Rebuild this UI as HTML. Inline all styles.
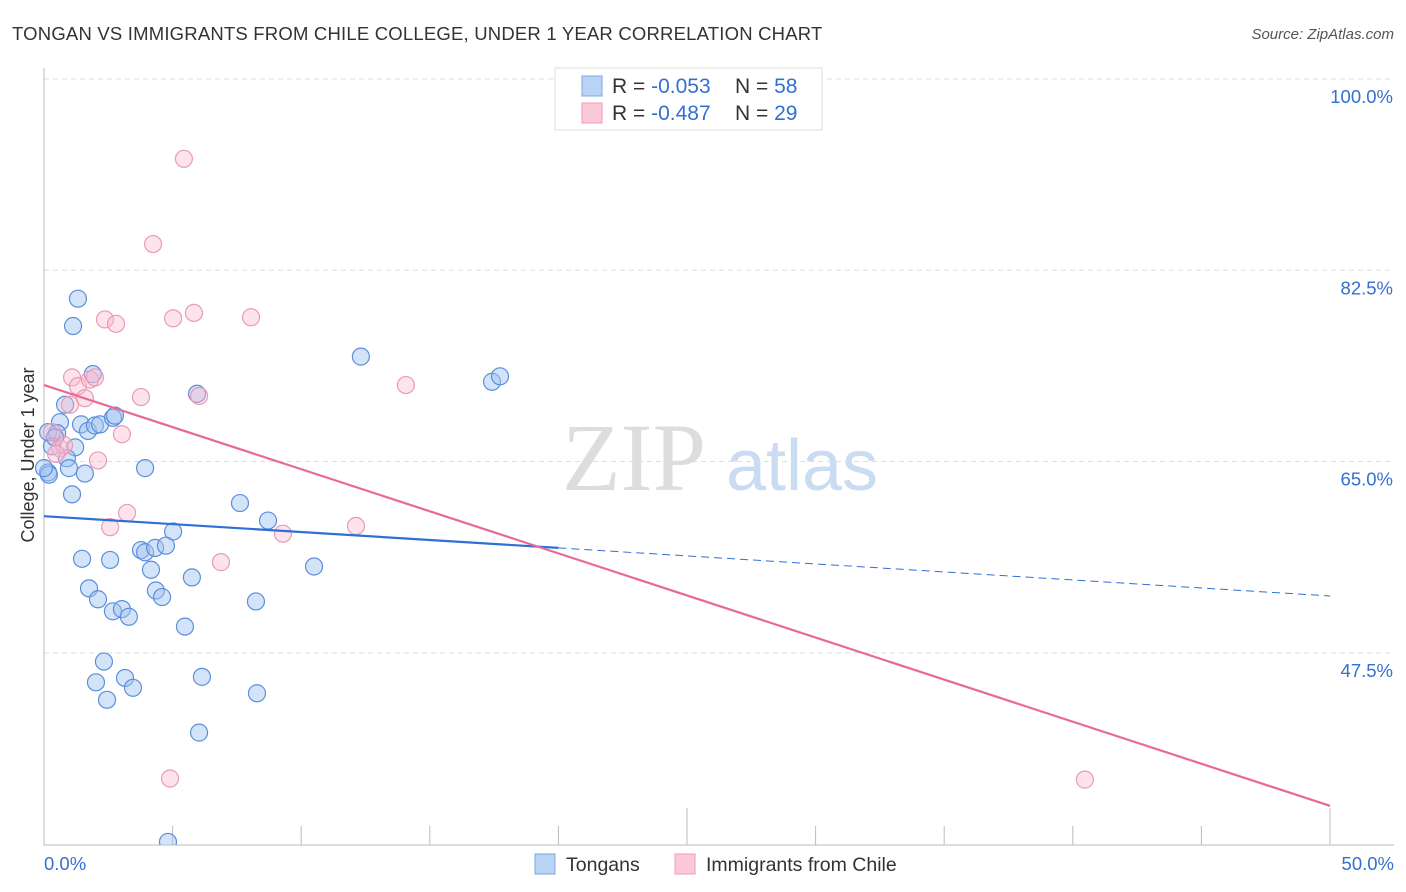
<!DOCTYPE html>
<html><head><meta charset="utf-8">
<style>
body{margin:0;background:#fff;font-family:"Liberation Sans",sans-serif;}
svg{display:block}
</style></head>
<body>
<svg id="chart" width="1406" height="892">
<text x="12" y="40" font-size="18.5" fill="#333" letter-spacing="0.2">TONGAN VS IMMIGRANTS FROM CHILE COLLEGE, UNDER 1 YEAR CORRELATION CHART</text>
<text x="1394" y="39" font-size="15" fill="#555" font-style="italic" text-anchor="end">Source: ZipAtlas.com</text>
<text x="634" y="490" font-size="96" fill="#ddd" font-family="Liberation Serif,serif" text-anchor="middle">ZIP</text>
<text x="802" y="490" font-size="72" fill="#c9dcf2" text-anchor="middle">atlas</text>
<g id="grid"></g>
<g id="axes"></g>
<g id="marks"></g>
<text transform="translate(34,455) rotate(-90)" font-size="18" fill="#333" text-anchor="middle">College, Under 1 year</text>
<g>
<rect x="555" y="68" width="267" height="62" fill="#fff" stroke="#ddd"/>
<rect x="582" y="76" width="20" height="20" fill="#b9d3f5" stroke="#7aa7e3"/>
<rect x="582" y="103" width="20" height="20" fill="#fcc9d8" stroke="#f09ab5"/>
<text x="612" y="93" font-size="21" fill="#333">R = <tspan fill="#3470d0">-0.053</tspan><tspan x="735">N = </tspan><tspan fill="#3470d0">58</tspan></text>
<text x="612" y="120" font-size="21" fill="#333">R = <tspan fill="#3470d0">-0.487</tspan><tspan x="735">N = </tspan><tspan fill="#3470d0">29</tspan></text>
</g>
<g>
<rect x="535" y="854" width="20" height="20" fill="#b9d3f5" stroke="#7aa7e3"/>
<text x="566" y="871" font-size="19.5" fill="#333">Tongans</text>
<rect x="675" y="854" width="20" height="20" fill="#fcc9d8" stroke="#f09ab5"/>
<text x="706" y="871" font-size="19.5" fill="#333">Immigrants from Chile</text>
</g>
</svg>
<script>
const yTicks=[100,82.5,65,47.5];
const yTickLabels=["100.0%","82.5%","65.0%","47.5%"];
const xTickLabels=["0.0%","50.0%"];
const tonganX=[1.32,1.13,1.9,5.95,12.32,17.42,17.73,0.82,0.62,1.44,1.71,1.98,2.18,2.68,2.76,0.16,0.51,1.21,0.31,0.89,0.97,0.16,1.59,3.93,1.09,7.62,8.71,5.02,3.77,3.93,4.32,4.74,1.48,2.57,4.16,10.5,1.75,5.75,4.35,4.59,2.1,8.24,2.68,3.03,3.3,5.48,2.33,2.02,3.15,3.46,6.14,2.45,8.28,6.03,4.82,0.19,0.0,0.43];
const tonganY=[79.9,77.4,73.0,71.2,74.6,72.3,72.8,70.2,68.6,68.4,67.8,68.3,68.4,69.0,69.2,67.7,67.6,66.3,66.4,65.3,64.4,64.0,63.9,64.4,62.0,61.2,59.6,58.6,56.9,56.7,57.1,57.3,56.1,56.0,55.1,55.4,53.4,54.4,53.2,52.6,52.4,52.2,51.3,51.5,50.8,49.9,46.7,44.8,45.2,44.3,45.3,43.2,43.8,40.2,30.2,63.8,64.4,67.2];
const chileX=[5.44,4.24,2.37,2.8,5.02,5.83,8.05,1.09,1.32,1.79,1.98,3.77,6.03,14.07,1.01,1.59,3.03,0.31,0.62,0.78,2.1,0.47,2.57,3.23,12.13,9.29,6.88,4.9,40.47];
const chileY=[92.7,84.9,78.0,77.6,78.1,78.6,78.2,72.7,71.9,72.5,72.7,70.9,71.0,72.0,70.2,70.8,67.5,67.7,66.2,66.5,65.1,65.7,59.0,60.3,59.1,58.4,55.8,36.0,35.9];
const blueLine=[0,60.0,20.0,57.1,50,52.7];
const pinkLine=[0,72.0,50,33.5];
const X0=44,X1=1330,YT=79,PX=10.93;
const xs=v=>X0+(X1-X0)*v/50;
const ys=v=>YT+(100-v)*PX;
const NS="http://www.w3.org/2000/svg";
function mk(t,a,p){const e=document.createElementNS(NS,t);for(const k in a)e.setAttribute(k,a[k]);p.appendChild(e);return e;}
const grid=document.getElementById('grid'),axes=document.getElementById('axes'),marks=document.getElementById('marks');
yTicks.forEach((v,i)=>{
 const l=mk('line',{x1:44,x2:1394,y1:ys(v),y2:ys(v),stroke:'#ddd','stroke-dasharray':'5,4'},grid);
 
 
 const t=mk('text',{x:1393,y:ys(v)+24,'font-size':18.5,fill:'#3470d0','text-anchor':'end'},grid);
 t.textContent=yTickLabels[i];
 
 
});
const ax=mk('line',{x1:44,x2:1394,y1:845,y2:845,stroke:'#bbb'},axes);


const ay=mk('line',{x1:44,x2:44,y1:68,y2:845,stroke:'#bbb'},axes);


for(let i=0;i<=10;i++){
 const x=xs(i*5),big=(i==5||i==10);
 const tk=mk('line',{x1:x,x2:x,y1:big?808:826,y2:845,stroke:'#bbb'},axes);
 
 
}
[[0,'start',44],[50,'end',1394]].forEach((d,i)=>{
 const t=mk('text',{x:d[2],y:870,'font-size':18.5,fill:'#3470d0','text-anchor':d[1]},axes);
 t.textContent=xTickLabels[i];
 
 
});
const clip=mk('clipPath',{id:'pc'},marks);mk('rect',{x:0,y:60,width:1406,height:785},clip);
const pg=mk('g',{'clip-path':'url(#pc)'},marks);
tonganX.forEach((v,i)=>{
 const c=mk('circle',{cx:xs(v),cy:ys(tonganY[i]),r:8.5,fill:'rgba(160,196,240,0.45)',stroke:'#5b8fdc','stroke-width':1.2},pg);
 
 
});
chileX.forEach((v,i)=>{
 const c=mk('circle',{cx:xs(v),cy:ys(chileY[i]),r:8.5,fill:'rgba(250,185,205,0.4)',stroke:'#ec9ab5','stroke-width':1.2},pg);
 
 
});
const b1=mk('line',{x1:xs(blueLine[0]),y1:ys(blueLine[1]),x2:xs(blueLine[2]),y2:ys(blueLine[3]),stroke:'#2f6fd6','stroke-width':2.2},marks);


const b2=mk('line',{x1:xs(blueLine[2]),y1:ys(blueLine[3]),x2:xs(blueLine[4]),y2:ys(blueLine[5]),stroke:'#2f6fd6','stroke-width':1,'stroke-dasharray':'8,5'},marks);


const p1=mk('line',{x1:xs(pinkLine[0]),y1:ys(pinkLine[1]),x2:xs(pinkLine[2]),y2:ys(pinkLine[3]),stroke:'#e8689a','stroke-width':2.2},marks);


</script>
</body></html>
